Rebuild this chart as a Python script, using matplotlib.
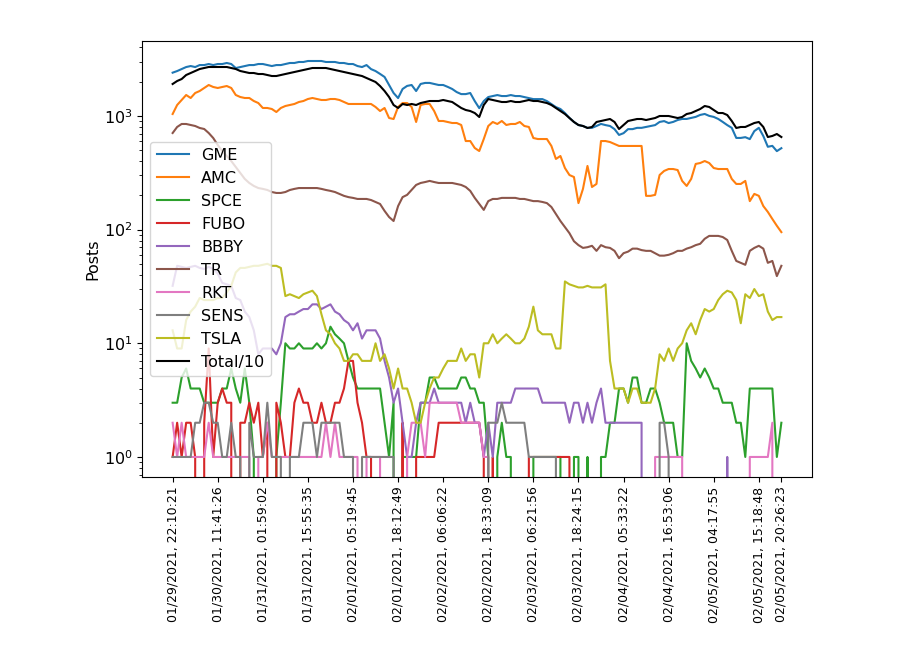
import numpy as np
import matplotlib
matplotlib.use("Agg")
import matplotlib.pyplot as plt

# posts per ticker in a rolling window, one sample per step
gme = [2400, 2480, 2580, 2690, 2745, 2690, 2800, 2800, 2860, 2800,
       2860, 2860, 2920, 2860, 2635, 2690, 2745, 2800, 2800, 2860,
       2860, 2800, 2745, 2800, 2800, 2860, 2920, 2920, 2980, 2980,
       3040, 3040, 3040, 3040, 2980, 2980, 2980, 2920, 2920, 2860,
       2860, 2745, 2690, 2800, 2580, 2480, 2340, 2200, 1870, 1590,
       1435, 1725, 1835, 1870, 1655, 1910, 1950, 1950, 1910, 1870,
       1870, 1800, 1725, 1620, 1555, 1555, 1590, 1350, 1170, 1350,
       1465, 1495, 1525, 1495, 1495, 1525, 1495, 1495, 1465, 1435,
       1405, 1405, 1405, 1350, 1270, 1195, 1150, 1060, 960, 885,
       830, 815, 785, 785, 815, 850, 830, 815, 765, 680,
       705, 765, 765, 785, 785, 800, 815, 830, 885, 900,
       865, 885, 920, 940, 940, 960, 980, 1020, 1040, 1000,
       980, 940, 885, 830, 785, 640, 640, 650, 625, 735,
       785, 665, 535, 545, 490, 520]

amc = [1039, 1247, 1380, 1527, 1437, 1590, 1656, 1760, 1870, 1796,
       1760, 1796, 1832, 1760, 1527, 1466, 1437, 1437, 1352, 1298,
       1174, 1174, 1150, 1082, 1174, 1222, 1247, 1273, 1325, 1352,
       1408, 1437, 1408, 1380, 1380, 1408, 1408, 1380, 1325, 1273,
       1273, 1273, 1273, 1273, 1273, 1198, 1104, 1174, 958, 939,
       1198, 1298, 1298, 1198, 884, 1247, 1273, 1273, 1104, 902,
       902, 884, 866, 866, 832, 601, 601, 522, 491, 626,
       815, 884, 849, 902, 832, 849, 849, 884, 815, 799,
       639, 626, 626, 626, 544, 418, 444, 348, 302, 290,
       171, 228, 363, 237, 252, 601, 601, 589, 566, 544,
       544, 544, 544, 544, 544, 198, 198, 202, 302, 328,
       341, 341, 334, 268, 242, 279, 378, 385, 401, 385,
       348, 341, 341, 341, 279, 252, 252, 268, 178, 206,
       198, 161, 143, 124, 108, 95]

spce = [3, 3, 5, 6, 4, 4, 4, 3, 3, 3,
        3, 4, 4, 6, 4, 3, 6, 3, 1, 0,
        0, 0, 0, 1, 3, 10, 9, 9, 10, 9,
        9, 9, 10, 9, 10, 14, 12, 11, 10, 7,
        5, 4, 4, 4, 4, 4, 4, 2, 1, 3,
        0, 1, 1, 1, 1, 3, 3, 5, 5, 4,
        4, 4, 4, 4, 5, 5, 4, 4, 3, 3,
        1, 0, 1, 2, 1, 1, 0, 0, 0, 0,
        1, 1, 1, 1, 1, 1, 1, 0, 0, 1,
        1, 0, 1, 0, 0, 1, 1, 2, 2, 4,
        4, 3, 5, 5, 3, 3, 4, 4, 3, 2,
        2, 2, 1, 1, 10, 7, 6, 5, 6, 5,
        4, 4, 3, 3, 3, 2, 2, 1, 4, 4,
        4, 4, 4, 4, 1, 2]

fubo = [1, 2, 1, 2, 2, 1, 0, 2, 9, 1,
        3, 4, 3, 3, 0, 2, 2, 3, 2, 3,
        1, 2, 0, 3, 2, 1, 1, 3, 4, 3,
        3, 2, 2, 3, 2, 2, 3, 3, 4, 7,
        7, 3, 2, 1, 1, 0, 0, 0, 0, 0,
        0, 2, 0, 0, 1, 1, 1, 1, 1, 2,
        2, 2, 2, 2, 2, 2, 2, 2, 2, 1,
        0, 1, 0, 0, 0, 0, 0, 0, 0, 1,
        1, 1, 1, 1, 1, 1, 1, 1, 1, 0,
        0, 0, 0, 0, 0, 0, 0, 0, 0, 0,
        0, 0, 0, 0, 0, 0, 0, 0, 0, 0,
        0, 0, 0, 0, 0, 0, 0, 0, 0, 0,
        0, 0, 0, 0, 0, 0, 0, 0, 0, 0,
        0, 0, 0, 0, 0, 0]

bbby = [32, 48, 47, 46, 47, 48, 46, 45, 47, 45,
        41, 34, 33, 32, 25, 24, 19, 17, 13, 8,
        9, 9, 9, 8, 10, 17, 18, 18, 19, 20,
        20, 22, 22, 20, 21, 22, 19, 18, 16, 15,
        13, 15, 11, 13, 13, 13, 11, 7, 5, 3,
        4, 2, 1, 1, 2, 3, 3, 3, 4, 3,
        3, 3, 3, 3, 3, 2, 3, 2, 2, 1,
        2, 1, 3, 3, 3, 3, 4, 4, 4, 4,
        4, 4, 3, 3, 3, 3, 3, 3, 2, 3,
        3, 2, 3, 2, 3, 4, 2, 2, 2, 2,
        2, 2, 2, 2, 2, 0, 0, 0, 0, 0,
        0, 0, 0, 0, 0, 0, 0, 0, 0, 0,
        0, 0, 0, 1, 0, 0, 0, 0, 0, 0,
        0, 0, 0, 0, 0, 0]

tr = [707, 799, 849, 849, 832, 815, 783, 767, 707, 639,
      555, 491, 444, 401, 355, 315, 279, 257, 242, 232,
      228, 223, 214, 210, 210, 214, 223, 228, 232, 232,
      232, 232, 232, 228, 223, 219, 214, 206, 198, 193,
      190, 186, 186, 186, 182, 175, 168, 146, 129, 119,
      161, 193, 202, 223, 247, 257, 262, 268, 262, 257,
      257, 257, 257, 252, 247, 237, 219, 190, 168, 149,
      178, 186, 186, 190, 190, 190, 190, 186, 186, 182,
      178, 178, 175, 171, 158, 137, 119, 105, 93, 79,
      73, 69, 70, 72, 65, 73, 70, 69, 65, 56,
      62, 64, 68, 68, 66, 65, 65, 62, 59, 59,
      60, 62, 65, 65, 68, 70, 73, 75, 83, 88,
      88, 88, 86, 81, 65, 53, 51, 49, 65, 69,
      72, 68, 51, 53, 39, 48]

rkt = [2, 1, 2, 1, 1, 1, 1, 1, 2, 1,
       1, 1, 1, 1, 1, 1, 1, 1, 0, 1,
       1, 2, 1, 1, 1, 1, 1, 1, 1, 1,
       1, 1, 1, 1, 2, 1, 2, 1, 1, 1,
       1, 1, 0, 1, 1, 1, 1, 0, 0, 0,
       0, 0, 1, 2, 2, 2, 1, 3, 3, 3,
       3, 3, 3, 3, 2, 2, 2, 2, 2, 1,
       1, 0, 0, 0, 0, 0, 0, 0, 0, 0,
       0, 0, 0, 0, 0, 0, 0, 0, 0, 0,
       0, 0, 0, 0, 0, 0, 0, 0, 0, 0,
       0, 0, 0, 0, 0, 0, 0, 1, 1, 1,
       1, 1, 1, 1, 0, 0, 0, 0, 0, 0,
       0, 0, 0, 0, 0, 0, 0, 0, 1, 1,
       1, 1, 1, 2, 0, 0]

sens = [1, 1, 1, 1, 1, 2, 2, 3, 3, 2,
        2, 1, 1, 2, 1, 1, 0, 2, 1, 1,
        1, 3, 1, 1, 1, 0, 1, 1, 1, 2,
        2, 2, 1, 2, 2, 2, 2, 2, 1, 1,
        1, 0, 1, 1, 1, 1, 1, 1, 1, 1,
        0, 0, 0, 0, 0, 0, 0, 0, 0, 0,
        0, 0, 0, 0, 0, 0, 0, 0, 0, 0,
        2, 2, 2, 3, 2, 2, 2, 2, 2, 1,
        1, 1, 1, 1, 1, 1, 0, 0, 0, 0,
        0, 0, 0, 0, 0, 0, 0, 0, 0, 0,
        0, 0, 0, 0, 0, 0, 0, 0, 2, 2,
        1, 0, 0, 0, 0, 0, 0, 0, 0, 0,
        0, 0, 0, 0, 0, 0, 0, 0, 0, 0,
        0, 0, 0, 0, 0, 0]

tsla = [13, 9, 9, 16, 19, 21, 25, 24, 24, 24,
        25, 25, 28, 32, 42, 46, 46, 47, 48, 48,
        49, 50, 48, 48, 46, 26, 27, 26, 25, 27,
        28, 29, 26, 18, 13, 12, 10, 9, 7, 7,
        8, 8, 7, 7, 7, 10, 7, 8, 6, 4,
        6, 4, 4, 3, 2, 2, 3, 4, 5, 5,
        6, 7, 7, 7, 9, 7, 8, 8, 5, 10,
        10, 12, 10, 11, 12, 11, 10, 10, 11, 14,
        21, 13, 12, 12, 12, 9, 9, 35, 33, 32,
        31, 31, 32, 31, 31, 31, 33, 7, 4, 4,
        4, 3, 4, 4, 3, 3, 3, 4, 8, 7,
        9, 7, 9, 10, 13, 15, 12, 16, 20, 19,
        20, 24, 27, 29, 28, 24, 15, 27, 25, 30,
        26, 27, 19, 16, 17, 17]

# total posts divided by 10
total_10 = [1908, 2027, 2110, 2289, 2384, 2483, 2585, 2638, 2692, 2692,
            2692, 2692, 2692, 2638, 2585, 2483, 2433, 2384, 2384, 2336,
            2336, 2289, 2243, 2243, 2289, 2336, 2384, 2433, 2483, 2534,
            2585, 2638, 2638, 2638, 2638, 2585, 2534, 2483, 2433, 2384,
            2336, 2289, 2243, 2154, 2069, 1987, 1832, 1656, 1466, 1247,
            1174, 1273, 1247, 1273, 1247, 1298, 1325, 1352, 1352, 1352,
            1380, 1352, 1325, 1247, 1174, 1127, 1104, 1060, 978, 1247,
            1408, 1380, 1352, 1325, 1325, 1352, 1325, 1325, 1352, 1380,
            1352, 1352, 1325, 1298, 1247, 1174, 1104, 1039, 958, 884,
            832, 815, 783, 799, 884, 902, 920, 939, 884, 767,
            832, 902, 920, 939, 939, 920, 939, 958, 998, 998,
            998, 978, 958, 978, 1039, 1060, 1104, 1150, 1222, 1198,
            1127, 1060, 1060, 1018, 902, 783, 799, 799, 832, 866,
            884, 799, 652, 666, 693, 652]

tick_labels = ["01/29/2021, 22:10:21", "01/30/2021, 11:41:26",
               "01/31/2021, 01:59:02", "01/31/2021, 15:55:35",
               "02/01/2021, 05:19:45", "02/01/2021, 18:12:49",
               "02/02/2021, 06:06:22", "02/02/2021, 18:33:09",
               "02/03/2021, 06:21:56", "02/03/2021, 18:24:15",
               "02/04/2021, 05:33:22", "02/04/2021, 16:53:06",
               "02/05/2021, 04:17:55", "02/05/2021, 15:18:48",
               "02/05/2021, 20:26:23"]

series = {
    "GME": gme, "AMC": amc, "SPCE": spce, "FUBO": fubo, "BBBY": bbby,
    "TR": tr, "RKT": rkt, "SENS": sens, "TSLA": tsla,
}

x = np.arange(len(gme))

fig = plt.figure(figsize=(9, 6.54), dpi=100)
ax = fig.add_axes([0.158, 0.271, 0.744, 0.666])

for name, vals in series.items():
    ax.plot(x, vals, label=name)
ax.plot(x, total_10, color="k", label="Total/10")

ax.set_yscale("log")
ax.set_ylabel("Posts", fontsize=11.5, labelpad=2)
ax.tick_params(axis="y", labelsize=11.5)

# a tick every 10 samples plus the last sample
tick_pos = list(range(0, len(x) - 1, 10)) + [len(x) - 1]
ax.set_xticks(tick_pos)
ax.set_xticklabels(tick_labels, rotation=90, fontsize=9)

ax.legend(loc="center left", fontsize=11.5)

fig.savefig("out.png", dpi=100)
